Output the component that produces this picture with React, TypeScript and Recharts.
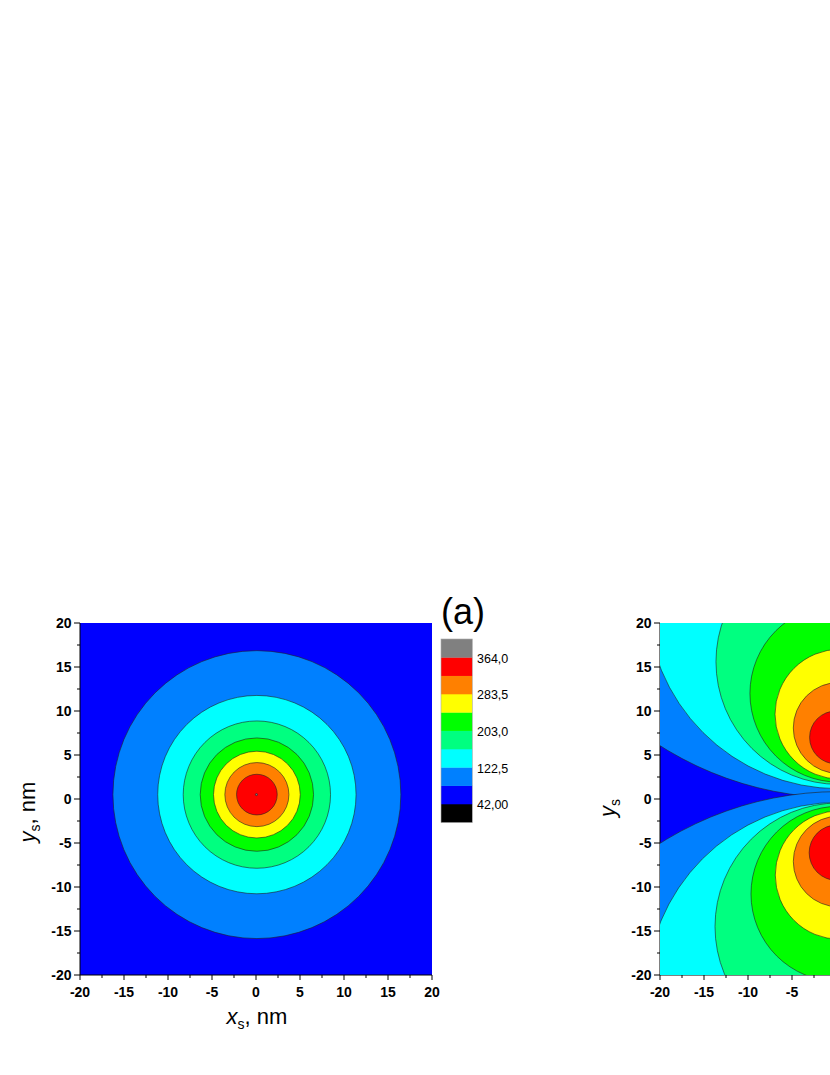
import React from "react";
import {
  ScatterChart,
  Scatter,
  XAxis,
  YAxis,
  ZAxis,
  CartesianGrid,
} from "recharts";

// contour levels and colour bands (below first level = black, above last = gray)
const LEVELS = [42.0, 82.25, 122.5, 162.75, 203.0, 243.25, 283.5, 323.75, 364.0];
const BAND_COLORS = [
  "#000000",
  "#0000ff",
  "#0080ff",
  "#00ffff",
  "#00ff80",
  "#00ff00",
  "#ffff00",
  "#ff8000",
  "#ff0000",
  "#808080",
];
const LABELED_LEVELS = [0, 2, 4, 6, 8];

const MAJOR_TICKS = [-20, -15, -10, -5, 0, 5, 10, 15, 20];
const MINOR_TICKS = [-17.5, -12.5, -7.5, -2.5, 2.5, 7.5, 12.5, 17.5];
const ALL_TICKS = [...MAJOR_TICKS, ...MINOR_TICKS].sort((a, b) => a - b);

// panel (a): concentric contours, centre and radius in nm
const A_X = [0.1, 0.1, 0.1, 0.1, 0.1, 0.1, 0.1, 0.05];
const A_Y = [0.5, 0.5, 0.5, 0.5, 0.5, 0.5, 0.5, 0.5];
const A_R = [16.36, 11.27, 8.37, 6.44, 4.93, 3.64, 2.31, 0.12];
const A_BANDS = [2, 3, 4, 5, 6, 7, 8, 9];

// panel (b): two lobes, upper and lower
const B_BANDS = [2, 3, 4, 5, 6, 7, 8];
const B_UP_X = [0.3, 0.3, 0.3, 0.3, 0.45, 0.32, 0.0];
const B_UP_Y = [38.0, 22.97, 15.6, 12.0, 9.64, 8.07, 7.0];
const B_UP_R = [37.85, 21.8, 13.94, 10.08, 7.38, 5.17, 3.0];
const B_LO_X = [0.3, 0.3, 0.3, 0.3, 0.4, 0.3, 0.1];
const B_LO_Y = [-37.17, -22.25, -14.5, -10.79, -8.64, -7.1, -6.1];
const B_LO_R = [38.01, 21.87, 14.05, 9.96, 7.3, 5.15, 3.15];

const dataA = A_R.map((r, i) => ({ x: A_X[i], y: A_Y[i], r, band: A_BANDS[i] }));
const dataB = B_BANDS.flatMap((band, i) => [
  { x: B_UP_X[i], y: B_UP_Y[i], r: B_UP_R[i], band },
  { x: B_LO_X[i], y: B_LO_Y[i], r: B_LO_R[i], band },
]);

const FONT = '"Liberation Sans", Arial, sans-serif';
const PLOT = 352;

function Disc(props: any) {
  const { cx, cy, payload } = props;
  let size = props.size;
  if (size == null) size = Math.PI * Math.pow((props.width || 0) / 2, 2);
  return (
    <circle
      cx={cx}
      cy={cy}
      r={size}
      fill={BAND_COLORS[payload.band]}
      stroke="#222"
      strokeWidth={0.6}
    />
  );
}

function YTick(props: any) {
  const { x, y, payload } = props;
  const major = MAJOR_TICKS.includes(payload.value);
  return (
    <g>
      <line x1={x - (major ? 6 : 3)} x2={x} y1={y} y2={y} stroke="#000" strokeWidth={1} />
      {major && (
        <text x={x - 8.5} y={y + 5} textAnchor="end" fontSize={14} fontWeight="bold" fill="#000" fontFamily={FONT}>
          {payload.value}
        </text>
      )}
    </g>
  );
}

function XTick(props: any) {
  const { x, y, payload } = props;
  const major = MAJOR_TICKS.includes(payload.value);
  return (
    <g>
      <line x1={x} x2={x} y1={y} y2={y + (major ? 5 : 3)} stroke="#000" strokeWidth={1} />
      {major && (
        <text x={x} y={y + 22} textAnchor="middle" fontSize={14} fontWeight="bold" fill="#000" fontFamily={FONT}>
          {payload.value}
        </text>
      )}
    </g>
  );
}

function Panel({ data, width, left }: { data: any[]; width: number; left: number }) {
  return (
    <ScatterChart
      width={width}
      height={1060}
      margin={{ top: 623, left, right: width - left - 60 - PLOT, bottom: 55 }}
    >
      <CartesianGrid fill={BAND_COLORS[1]} fillOpacity={1} horizontal={false} vertical={false} stroke="none" />
      <XAxis
        type="number"
        dataKey="x"
        domain={[-20, 20]}
        allowDataOverflow
        ticks={ALL_TICKS}
        interval={0}
        height={30}
        tickSize={0}
        tickMargin={0}
        tickLine={false}
        axisLine={{ stroke: "#000", strokeWidth: 1 }}
        tick={<XTick />}
      />
      <YAxis
        type="number"
        dataKey="y"
        domain={[-20, 20]}
        allowDataOverflow
        ticks={ALL_TICKS}
        interval={0}
        width={60}
        tickSize={0}
        tickMargin={0}
        tickLine={false}
        axisLine={{ stroke: "#000", strokeWidth: 1 }}
        tick={<YTick />}
      />
      <ZAxis type="number" dataKey="r" domain={[0, 40]} range={[0, PLOT]} />
      <Scatter data={data} shape={<Disc />} isAnimationActive={false} />
    </ScatterChart>
  );
}

export default function App() {
  const segH = 18.33;
  const barTop = 639;
  return (
    <div
      style={{
        position: "absolute",
        left: 0,
        top: 0,
        width: 830,
        height: 1075,
        overflow: "hidden",
        background: "#fff",
        fontFamily: FONT,
      }}
    >
      <div style={{ position: "absolute", left: 0, top: 0 }}>
        <Panel data={dataA} width={470} left={20} />
      </div>
      <div style={{ position: "absolute", left: 560, top: 0 }}>
        <Panel data={dataB} width={500} left={40} />
      </div>
      <svg
        width={830}
        height={1075}
        style={{ position: "absolute", left: 0, top: 0, pointerEvents: "none" }}
        fontFamily={FONT}
      >
        {/* colour scale */}
        {BAND_COLORS.map((c, i) => (
          <rect key={c} x={441} y={barTop + (9 - i) * segH} width={31.3} height={segH + 0.3} fill={c} />
        ))}
        <rect x={441} y={barTop} width={31.3} height={segH * 10} fill="none" stroke="#aaa" strokeWidth={0.6} />
        {LABELED_LEVELS.map((k) => (
          <text key={k} x={477} y={barTop + (9 - k) * segH + 5.5} fontSize={12.5} fill="#000">
            {LEVELS[k].toPrecision(4).replace(".", ",")}
          </text>
        ))}
        <text x={441} y={624} fontSize={36} fill="#000">
          (a)
        </text>

        {/* axis titles, panel (a) */}
        <text x={257} y={1024} fontSize={22} textAnchor="middle" fill="#000">
          <tspan fontStyle="italic">x</tspan>
          <tspan fontSize={14} dy={5}>s</tspan>
          <tspan dy={-5}>, nm</tspan>
        </text>
        <text x={35} y={812} fontSize={22} textAnchor="middle" fill="#000" transform="rotate(-90 35 812)">
          <tspan fontStyle="italic">y</tspan>
          <tspan fontSize={14} dy={5}>s</tspan>
          <tspan dy={-5}>, nm</tspan>
        </text>

        {/* axis titles, panel (b) */}
        <text x={840} y={1024} fontSize={22} textAnchor="middle" fill="#000">
          <tspan fontStyle="italic">x</tspan>
          <tspan fontSize={14} dy={5}>s</tspan>
        </text>
        <text x={615} y={808} fontSize={22} textAnchor="middle" fill="#000" transform="rotate(-90 615 808)">
          <tspan fontStyle="italic">y</tspan>
          <tspan fontSize={14} dy={5}>s</tspan>
        </text>
      </svg>
    </div>
  );
}
